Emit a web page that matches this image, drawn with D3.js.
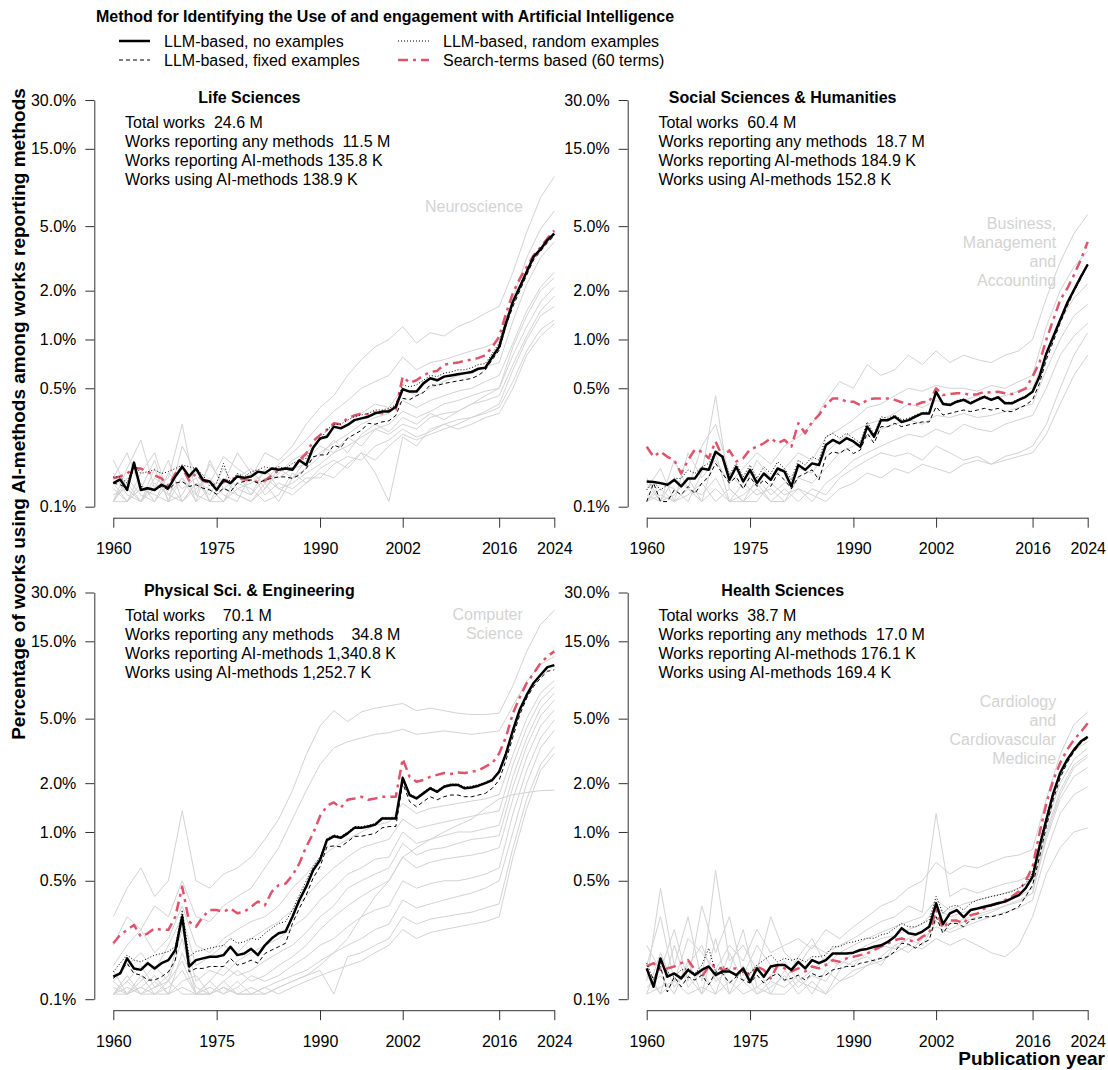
<!DOCTYPE html>
<html>
<head>
<meta charset="utf-8">
<script src="https://cdn.jsdelivr.net/npm/d3@7"></script>
<style>
  body { margin: 0; background: #fff; }
  svg text { font-family: "Liberation Sans", Arial, sans-serif; }
</style>
</head>
<body>
<div id="chart"></div>
<script>
// years shown on the x axis
const years = d3.range(1960, 2025);
const greyYears = d3.range(1960, 2025, 2);
const xTicks = [1960, 1975, 1990, 2002, 2016, 2024];
// lowest tick sits a little under 0.1 and is labelled 0.1%
const yTicks = [0.093, 0.5, 1, 2, 5, 15, 30];

// Life Sciences (percent)
const lifeNoEx = [0.130,0.137,0.118,0.174,0.118,0.121,0.118,0.127,0.121,0.143,
  0.164,0.143,0.160,0.136,0.133,0.118,0.136,0.130,0.143,0.140,
  0.143,0.153,0.150,0.160,0.157,0.160,0.157,0.180,0.168,0.215,
  0.245,0.251,0.290,0.283,0.297,0.318,0.326,0.334,0.350,0.359,
  0.359,0.385,0.493,0.477,0.477,0.536,0.576,0.560,0.590,0.600,
  0.610,0.620,0.630,0.660,0.670,0.780,0.900,1.26,1.71,2.11,
  2.62,3.24,3.60,4.10,4.50];
const lifeFixed = [0.130,0.127,0.121,0.164,0.124,0.121,0.118,0.124,0.118,0.130,
  0.133,0.124,0.127,0.121,0.118,0.111,0.121,0.115,0.130,0.133,
  0.136,0.130,0.136,0.139,0.142,0.142,0.139,0.146,0.160,0.189,
  0.194,0.194,0.223,0.215,0.246,0.260,0.275,0.304,0.300,0.310,
  0.315,0.340,0.433,0.425,0.450,0.470,0.525,0.520,0.535,0.545,
  0.555,0.565,0.575,0.600,0.650,0.750,0.860,1.22,1.60,2.00,
  2.50,3.10,3.50,3.95,4.35];
const lifeRandom = [0.142,0.142,0.130,0.172,0.149,0.153,0.157,0.149,0.153,0.160,
  0.168,0.164,0.160,0.146,0.124,0.130,0.172,0.130,0.149,0.142,
  0.153,0.157,0.164,0.160,0.164,0.160,0.172,0.180,0.185,0.218,
  0.240,0.277,0.300,0.300,0.318,0.334,0.342,0.350,0.367,0.367,
  0.376,0.394,0.525,0.510,0.525,0.560,0.600,0.590,0.620,0.630,
  0.650,0.650,0.670,0.700,0.710,0.820,0.950,1.32,1.74,2.16,
  2.68,3.24,3.60,4.10,4.60];
const lifeSearch = [0.139,0.143,0.149,0.160,0.160,0.152,0.145,0.139,0.125,0.149,
  0.162,0.135,0.149,0.135,0.129,0.125,0.132,0.139,0.139,0.137,
  0.135,0.132,0.135,0.145,0.156,0.160,0.160,0.180,0.198,0.236,
  0.257,0.277,0.304,0.300,0.326,0.340,0.350,0.345,0.355,0.350,
  0.365,0.370,0.590,0.540,0.560,0.600,0.630,0.640,0.700,0.710,
  0.720,0.740,0.750,0.770,0.800,0.900,1.04,1.45,1.94,2.37,
  2.80,3.30,3.70,4.20,4.70];
const lifeGrey = [
  [0.14,0.20,0.12,0.18,0.10,0.22,0.15,0.13,0.19,0.16,0.14,0.20,0.18,0.22,0.30,0.38,0.45,0.60,0.75,0.90,1.00,1.20,0.95,1.10,1.05,1.20,1.30,1.45,1.60,2.60,4.60,7.50,10.1],
  [0.10,0.16,0.24,0.12,0.14,0.30,0.11,0.17,0.13,0.20,0.15,0.13,0.17,0.20,0.24,0.30,0.36,0.42,0.50,0.55,0.60,0.78,0.65,0.72,0.75,0.80,0.85,0.90,0.98,1.80,3.20,4.80,6.20],
  [0.12,0.10,0.15,0.20,0.11,0.14,0.10,0.18,0.12,0.14,0.16,0.12,0.15,0.18,0.20,0.24,0.28,0.30,0.35,0.40,0.38,0.50,0.45,0.50,0.55,0.60,0.62,0.68,0.72,1.30,2.20,3.20,4.00],
  [0.10,0.13,0.10,0.12,0.18,0.10,0.13,0.11,0.16,0.12,0.13,0.15,0.14,0.16,0.17,0.20,0.23,0.26,0.30,0.33,0.35,0.42,0.38,0.42,0.45,0.48,0.50,0.55,0.60,0.95,1.50,2.10,2.60],
  [0.15,0.11,0.10,0.14,0.12,0.17,0.10,0.12,0.10,0.15,0.11,0.14,0.12,0.13,0.15,0.17,0.20,0.22,0.25,0.28,0.30,0.36,0.33,0.36,0.40,0.42,0.45,0.48,0.50,0.80,1.20,1.70,2.10],
  [0.10,0.10,0.13,0.10,0.15,0.12,0.14,0.10,0.12,0.11,0.10,0.12,0.16,0.14,0.18,0.22,0.20,0.25,0.22,0.28,0.26,0.30,0.28,0.33,0.35,0.36,0.40,0.42,0.45,0.70,1.05,1.50,1.85],
  [0.11,0.12,0.10,0.16,0.10,0.11,0.16,0.10,0.10,0.13,0.12,0.10,0.11,0.15,0.13,0.16,0.18,0.16,0.20,0.15,0.10,0.25,0.22,0.28,0.30,0.32,0.33,0.35,0.38,0.55,0.85,1.15,1.32],
  [0.10,0.14,0.11,0.10,0.13,0.10,0.12,0.14,0.11,0.10,0.15,0.11,0.13,0.12,0.14,0.14,0.17,0.19,0.18,0.22,0.24,0.28,0.25,0.27,0.30,0.28,0.30,0.33,0.35,0.50,0.80,1.05,1.25],
  [0.13,0.10,0.12,0.11,0.10,0.14,0.11,0.10,0.14,0.11,0.10,0.13,0.10,0.14,0.16,0.19,0.24,0.20,0.26,0.30,0.27,0.33,0.30,0.35,0.32,0.36,0.40,0.45,0.50,0.90,1.40,2.00,2.40],
  [0.18,0.12,0.10,0.13,0.11,0.10,0.13,0.12,0.10,0.12,0.11,0.16,0.12,0.11,0.13,0.15,0.14,0.17,0.20,0.18,0.22,0.26,0.24,0.26,0.28,0.30,0.33,0.36,0.40,0.65,1.00,1.40,1.60]
];

// Social Sciences & Humanities
const socNoEx = [0.133,0.132,0.130,0.127,0.136,0.124,0.139,0.139,0.160,0.157,
  0.203,0.189,0.136,0.164,0.133,0.157,0.130,0.149,0.136,0.160,
  0.153,0.124,0.168,0.157,0.172,0.168,0.223,0.240,0.229,0.246,
  0.235,0.218,0.290,0.251,0.318,0.318,0.334,0.310,0.318,0.334,
  0.350,0.350,0.475,0.400,0.394,0.413,0.424,0.404,0.424,0.443,
  0.424,0.440,0.404,0.404,0.424,0.443,0.476,0.590,0.820,1.04,
  1.32,1.67,2.02,2.43,2.90];
const socFixed = [0.100,0.130,0.100,0.100,0.118,0.110,0.124,0.112,0.130,0.142,
  0.172,0.149,0.130,0.142,0.120,0.142,0.124,0.136,0.124,0.149,
  0.136,0.120,0.142,0.149,0.157,0.136,0.189,0.203,0.198,0.213,
  0.198,0.208,0.264,0.229,0.290,0.290,0.304,0.290,0.297,0.304,
  0.310,0.310,0.385,0.342,0.350,0.359,0.367,0.359,0.367,0.376,
  0.367,0.376,0.359,0.359,0.376,0.394,0.424,0.536,0.750,0.970,
  1.26,1.59,1.98,2.37,2.89];
const socRandom = [0.118,0.133,0.118,0.127,0.139,0.139,0.157,0.149,0.164,0.172,
  0.203,0.189,0.146,0.172,0.142,0.168,0.139,0.164,0.149,0.176,
  0.160,0.136,0.180,0.168,0.189,0.180,0.251,0.264,0.246,0.264,
  0.246,0.230,0.310,0.260,0.334,0.326,0.342,0.320,0.326,0.342,
  0.355,0.357,0.480,0.405,0.400,0.420,0.430,0.410,0.430,0.450,
  0.430,0.445,0.410,0.410,0.430,0.450,0.480,0.600,0.830,1.05,
  1.33,1.68,2.03,2.45,2.92];
const socSearch = [0.218,0.189,0.203,0.189,0.180,0.149,0.180,0.210,0.203,0.185,
  0.235,0.189,0.207,0.177,0.185,0.210,0.218,0.229,0.246,0.229,
  0.240,0.218,0.304,0.264,0.310,0.342,0.394,0.433,0.433,0.413,
  0.413,0.394,0.424,0.433,0.433,0.433,0.424,0.410,0.400,0.394,
  0.410,0.413,0.500,0.454,0.460,0.466,0.466,0.454,0.460,0.476,
  0.470,0.476,0.466,0.460,0.476,0.500,0.590,0.720,1.00,1.32,
  1.75,2.05,2.50,3.10,4.00];
const socGrey = [
  [0.12,0.16,0.10,0.20,0.14,0.18,0.13,0.16,0.20,0.17,0.22,0.25,0.30,0.42,0.55,0.50,0.70,0.60,0.65,0.80,0.70,0.85,0.72,0.80,0.75,0.72,0.80,0.85,1.00,1.80,3.00,4.50,5.90],
  [0.14,0.10,0.18,0.12,0.22,0.30,0.15,0.12,0.18,0.14,0.16,0.20,0.18,0.25,0.28,0.32,0.38,0.40,0.45,0.50,0.48,0.52,0.50,0.50,0.48,0.52,0.50,0.55,0.60,1.20,2.00,2.80,3.50],
  [0.10,0.13,0.12,0.10,0.15,0.45,0.12,0.10,0.14,0.11,0.13,0.16,0.15,0.20,0.24,0.27,0.30,0.32,0.35,0.40,0.38,0.42,0.40,0.42,0.45,0.43,0.45,0.48,0.50,0.80,1.30,1.80,2.20],
  [0.11,0.10,0.14,0.12,0.10,0.20,0.10,0.13,0.11,0.12,0.10,0.14,0.13,0.16,0.20,0.22,0.25,0.28,0.30,0.32,0.30,0.34,0.33,0.35,0.33,0.34,0.36,0.38,0.40,0.65,1.00,1.40,1.65],
  [0.10,0.12,0.10,0.11,0.13,0.10,0.12,0.10,0.10,0.13,0.11,0.12,0.10,0.13,0.15,0.18,0.20,0.22,0.24,0.26,0.25,0.28,0.26,0.30,0.28,0.27,0.30,0.32,0.34,0.50,0.80,1.05,1.26],
  [0.13,0.10,0.11,0.14,0.10,0.12,0.10,0.11,0.13,0.10,0.12,0.10,0.12,0.11,0.14,0.16,0.18,0.20,0.19,0.20,0.18,0.22,0.20,0.18,0.19,0.17,0.19,0.20,0.22,0.30,0.50,0.80,1.10],
  [0.10,0.11,0.10,0.12,0.11,0.14,0.10,0.10,0.12,0.10,0.10,0.12,0.11,0.10,0.12,0.13,0.15,0.14,0.16,0.15,0.17,0.16,0.15,0.17,0.18,0.17,0.18,0.19,0.20,0.26,0.40,0.60,0.80]
];

// Physical Sci. & Engineering
const physNoEx = [0.128,0.134,0.166,0.144,0.141,0.155,0.144,0.155,0.162,0.187,
  0.300,0.148,0.162,0.166,0.170,0.170,0.174,0.196,0.174,0.178,
  0.190,0.174,0.200,0.221,0.237,0.243,0.300,0.380,0.460,0.580,
  0.670,0.890,0.940,0.920,0.980,1.06,1.06,1.08,1.11,1.21,
  1.21,1.21,2.15,1.69,1.61,1.73,1.86,1.77,1.90,1.95,
  1.95,1.86,1.88,1.93,2.00,2.09,2.35,3.05,4.24,5.70,
  7.00,8.30,9.30,10.4,10.7];
const physFixed = [0.125,0.137,0.155,0.134,0.131,0.122,0.122,0.128,0.137,0.162,
  0.315,0.137,0.144,0.144,0.148,0.148,0.148,0.166,0.151,0.155,
  0.162,0.155,0.178,0.187,0.196,0.206,0.273,0.338,0.408,0.520,
  0.610,0.810,0.820,0.810,0.870,0.940,0.940,0.960,0.980,1.06,
  1.08,1.08,2.00,1.54,1.43,1.54,1.65,1.58,1.65,1.69,
  1.69,1.65,1.65,1.69,1.73,1.86,2.09,2.78,3.87,5.30,
  6.70,7.90,8.90,9.80,10.0];
const physRandom = [0.137,0.155,0.174,0.162,0.158,0.166,0.174,0.178,0.183,0.196,
  0.330,0.170,0.183,0.187,0.192,0.196,0.200,0.221,0.206,0.210,
  0.221,0.216,0.237,0.255,0.273,0.280,0.330,0.408,0.500,0.610,
  0.700,0.910,0.960,0.940,1.00,1.08,1.08,1.10,1.13,1.23,
  1.23,1.23,2.20,1.72,1.64,1.76,1.89,1.80,1.93,1.98,
  1.98,1.90,1.92,1.96,2.03,2.12,2.40,3.10,4.30,5.75,
  7.05,8.30,9.30,10.3,10.6];
const physSearch = [0.206,0.232,0.249,0.267,0.226,0.237,0.255,0.249,0.249,0.300,
  0.460,0.280,0.260,0.300,0.330,0.330,0.322,0.338,0.315,0.322,
  0.346,0.372,0.353,0.428,0.470,0.480,0.540,0.640,0.810,0.980,
  1.25,1.45,1.52,1.41,1.58,1.61,1.65,1.58,1.61,1.65,
  1.65,1.65,2.83,2.19,2.04,2.09,2.19,2.25,2.31,2.28,
  2.33,2.31,2.35,2.40,2.53,2.66,3.05,3.87,5.40,6.80,
  8.30,9.50,11.0,12.1,13.0];
const physGrey = [
  [0.30,0.45,0.60,0.40,0.50,1.35,0.50,0.45,0.55,0.60,0.70,0.90,1.20,1.80,3.00,4.50,5.60,4.80,5.50,5.80,6.00,6.20,5.60,5.80,5.60,5.40,5.30,5.30,5.40,8.00,13.0,19.0,23.3],
  [0.20,0.30,0.25,0.35,0.30,0.50,0.30,0.28,0.35,0.40,0.45,0.60,0.80,1.20,1.80,2.60,3.30,3.60,3.80,4.00,4.10,4.30,4.00,4.10,4.20,4.10,4.00,4.10,4.20,6.00,8.50,10.8,12.1],
  [0.15,0.20,0.25,0.18,0.22,0.35,0.20,0.18,0.22,0.25,0.28,0.30,0.35,0.45,0.55,0.70,0.80,0.90,1.00,1.10,1.15,1.50,1.30,1.40,1.45,1.50,1.55,1.60,1.70,3.00,5.00,7.20,8.60],
  [0.12,0.15,0.18,0.14,0.20,0.30,0.15,0.17,0.20,0.18,0.22,0.25,0.28,0.33,0.40,0.50,0.60,0.70,0.80,0.85,0.90,1.20,1.05,1.10,1.15,1.20,1.25,1.30,1.35,2.60,4.40,6.50,7.90],
  [0.10,0.12,0.15,0.11,0.13,0.25,0.12,0.14,0.13,0.16,0.18,0.20,0.22,0.26,0.30,0.38,0.45,0.55,0.60,0.68,0.70,1.00,0.85,0.90,0.95,1.00,1.00,1.05,1.10,2.20,3.80,5.80,7.20],
  [0.14,0.10,0.12,0.15,0.12,0.22,0.10,0.12,0.15,0.13,0.14,0.16,0.18,0.20,0.24,0.30,0.35,0.45,0.50,0.55,0.60,0.85,0.72,0.78,0.80,0.85,0.90,0.92,0.95,1.90,3.40,5.20,6.50],
  [0.10,0.13,0.10,0.12,0.10,0.18,0.11,0.10,0.12,0.14,0.12,0.13,0.15,0.17,0.20,0.25,0.30,0.35,0.40,0.45,0.50,0.70,0.60,0.65,0.68,0.70,0.72,0.75,0.80,1.60,2.90,4.50,5.65],
  [0.11,0.10,0.13,0.10,0.12,0.16,0.10,0.12,0.10,0.11,0.13,0.12,0.13,0.15,0.17,0.20,0.22,0.26,0.30,0.33,0.35,0.50,0.45,0.48,0.50,0.50,0.52,0.55,0.60,1.30,2.40,3.80,4.90],
  [0.10,0.11,0.10,0.10,0.11,0.14,0.10,0.10,0.11,0.10,0.10,0.11,0.12,0.13,0.14,0.16,0.18,0.20,0.22,0.25,0.27,0.38,0.34,0.36,0.38,0.40,0.42,0.45,0.50,1.00,2.00,3.30,4.24],
  [0.12,0.10,0.11,0.13,0.10,0.12,0.13,0.10,0.12,0.10,0.11,0.10,0.11,0.12,0.13,0.14,0.10,0.17,0.18,0.20,0.22,0.30,0.27,0.29,0.30,0.31,0.32,0.34,0.36,0.80,1.60,2.60,3.36],
  [0.10,0.12,0.10,0.11,0.12,0.10,0.10,0.11,0.10,0.12,0.10,0.11,0.10,0.11,0.12,0.13,0.14,0.15,0.16,0.18,0.20,0.25,0.22,0.24,0.25,0.26,0.27,0.28,0.30,0.70,1.40,2.40,3.05],
  [0.10,0.10,0.11,0.10,0.10,0.11,0.10,0.10,0.11,0.10,0.10,0.10,0.11,0.12,0.13,0.15,0.18,0.22,0.30,0.40,0.50,0.70,0.80,0.90,1.00,1.10,1.20,1.40,1.60,1.70,1.75,1.80,1.81]
];

// Health Sciences
const healthNoEx = [0.144,0.111,0.166,0.128,0.134,0.125,0.141,0.131,0.141,0.148,
  0.131,0.138,0.138,0.131,0.144,0.119,0.144,0.128,0.148,0.151,
  0.151,0.141,0.158,0.144,0.162,0.155,0.162,0.178,0.178,0.178,
  0.180,0.187,0.190,0.196,0.200,0.210,0.226,0.255,0.237,0.233,
  0.243,0.260,0.363,0.270,0.315,0.330,0.298,0.330,0.337,0.346,
  0.353,0.363,0.372,0.390,0.408,0.450,0.530,0.810,1.19,1.73,
  2.31,2.78,3.21,3.61,3.87];
const healthFixed = [0.141,0.125,0.148,0.103,0.128,0.111,0.128,0.122,0.131,0.114,
  0.137,0.134,0.117,0.128,0.122,0.117,0.131,0.117,0.128,0.134,
  0.122,0.125,0.131,0.122,0.134,0.128,0.131,0.141,0.144,0.148,
  0.148,0.155,0.158,0.162,0.166,0.170,0.183,0.206,0.203,0.192,
  0.206,0.216,0.300,0.237,0.273,0.273,0.260,0.287,0.293,0.300,
  0.300,0.307,0.315,0.330,0.346,0.400,0.470,0.700,1.08,1.58,
  2.15,2.66,3.12,3.53,3.80];
const healthRandom = [0.155,0.122,0.158,0.137,0.128,0.141,0.144,0.134,0.151,0.192,
  0.137,0.148,0.141,0.128,0.137,0.134,0.151,0.162,0.174,0.158,
  0.166,0.162,0.166,0.158,0.170,0.170,0.174,0.196,0.196,0.206,
  0.210,0.216,0.221,0.221,0.232,0.237,0.255,0.273,0.260,0.260,
  0.273,0.287,0.400,0.315,0.346,0.353,0.330,0.363,0.380,0.390,
  0.400,0.408,0.418,0.428,0.450,0.480,0.560,0.850,1.24,1.77,
  2.31,2.78,3.21,3.61,3.87];
const healthSearch = [0.148,0.155,0.141,0.144,0.148,0.155,0.162,0.141,0.128,0.148,
  0.151,0.141,0.144,0.144,0.138,0.131,0.148,0.141,0.125,0.151,
  0.144,0.138,0.144,0.138,0.148,0.144,0.151,0.162,0.158,0.166,
  0.170,0.174,0.178,0.187,0.196,0.205,0.215,0.220,0.215,0.210,
  0.226,0.237,0.330,0.255,0.284,0.284,0.273,0.307,0.314,0.337,
  0.353,0.363,0.380,0.400,0.430,0.500,0.610,0.980,1.50,2.09,
  2.66,3.21,3.70,4.14,4.68];
const healthGrey = [
  [0.15,0.30,0.12,0.22,0.18,0.14,0.20,0.16,0.25,0.18,0.20,0.22,0.19,0.25,0.22,0.26,0.30,0.35,0.38,0.45,0.50,0.65,0.55,0.62,0.60,0.65,0.70,0.72,0.78,1.60,3.00,4.60,5.50],
  [0.12,0.45,0.15,0.30,0.12,0.58,0.16,0.20,0.14,0.30,0.18,0.15,0.20,0.18,0.20,0.22,0.25,0.28,0.30,0.35,0.32,1.30,0.40,0.45,0.42,0.45,0.48,0.50,0.55,1.20,2.30,3.20,3.60],
  [0.20,0.14,0.25,0.12,0.35,0.18,0.30,0.13,0.20,0.15,0.12,0.17,0.22,0.15,0.18,0.20,0.22,0.24,0.26,0.28,0.30,0.38,0.33,0.36,0.38,0.40,0.42,0.45,0.50,1.10,2.00,2.80,3.30],
  [0.10,0.18,0.11,0.15,0.20,0.12,0.14,0.25,0.11,0.13,0.16,0.12,0.14,0.17,0.15,0.18,0.20,0.22,0.23,0.25,0.27,0.34,0.30,0.32,0.34,0.36,0.38,0.40,0.45,1.00,1.80,2.60,3.00],
  [0.13,0.10,0.20,0.11,0.14,0.10,0.18,0.12,0.15,0.10,0.14,0.11,0.13,0.12,0.16,0.15,0.18,0.20,0.19,0.22,0.24,0.30,0.27,0.29,0.31,0.33,0.35,0.37,0.42,0.90,1.60,2.20,2.50],
  [0.11,0.13,0.10,0.16,0.10,0.13,0.10,0.15,0.10,0.12,0.11,0.13,0.10,0.14,0.12,0.14,0.15,0.17,0.20,0.18,0.22,0.26,0.24,0.26,0.28,0.30,0.32,0.34,0.38,0.75,1.30,1.70,1.90],
  [0.10,0.11,0.12,0.10,0.11,0.10,0.12,0.10,0.11,0.10,0.10,0.12,0.11,0.10,0.12,0.13,0.15,0.16,0.18,0.20,0.19,0.22,0.20,0.22,0.20,0.18,0.17,0.20,0.30,0.55,0.80,1.00,1.06],
  [0.14,0.10,0.12,0.13,0.10,0.22,0.10,0.12,0.10,0.11,0.13,0.10,0.12,0.10,0.14,0.16,0.17,0.15,0.20,0.22,0.20,0.28,0.25,0.28,0.30,0.32,0.35,0.38,0.42,0.95,1.70,2.50,2.90]
];

const panels = [
  { title: "Life Sciences", col: 0, row: 0,
    stats: ["Total works  24.6 M", "Works reporting any methods  11.5 M", "Works reporting AI-methods 135.8 K", "Works using AI-methods 138.9 K"],
    noEx: lifeNoEx, fixed: lifeFixed, random: lifeRandom, search: lifeSearch, grey: lifeGrey,
    field: ["Neuroscience"], fieldY: 211.7 },
  { title: "Social Sciences & Humanities", col: 1, row: 0,
    stats: ["Total works  60.4 M", "Works reporting any methods  18.7 M", "Works reporting AI-methods 184.9 K", "Works using AI-methods 152.8 K"],
    noEx: socNoEx, fixed: socFixed, random: socRandom, search: socSearch, grey: socGrey,
    field: ["Business,", "Management", "and", "Accounting"], fieldY: 229.3 },
  { title: "Physical Sci. & Engineering", col: 0, row: 1,
    stats: ["Total works    70.1 M", "Works reporting any methods    34.8 M", "Works reporting AI-methods 1,340.8 K", "Works using AI-methods 1,252.7 K"],
    noEx: physNoEx, fixed: physFixed, random: physRandom, search: physSearch, grey: physGrey,
    field: ["Computer", "Science"], fieldY: 127 },
  { title: "Health Sciences", col: 1, row: 1,
    stats: ["Total works  38.7 M", "Works reporting any methods  17.0 M", "Works reporting AI-methods 176.1 K", "Works using AI-methods 169.4 K"],
    noEx: healthNoEx, fixed: healthFixed, random: healthRandom, search: healthSearch, grey: healthGrey,
    field: ["Cardiology", "and", "Cardiovascular", "Medicine"], fieldY: 214.8 }
];

const RED = "#DF536B";
const GREY = "#d3d3d3";
const FONT = 16;

const svg = d3.select("#chart").append("svg")
    .attr("width", 1108)
    .attr("height", 1070);

function drawPanel(p) {
    const x0 = p.col === 0 ? 113.3 : 646.7;
    const y0 = p.row === 0 ? 0 : 492.5;

    const x = d3.scaleLinear().domain([1960, 2024]).range([x0, x0 + 441]);
    const y = d3.scaleLog().domain([0.093, 30]).range([y0 + 506.7, y0 + 100]);

    const g = svg.append("g");

    // subfield lines
    const greyLine = d3.line().x((d, i) => x(greyYears[i])).y(d => y(d));
    g.selectAll(".grey")
        .data(p.grey)
        .enter()
        .append("path")
        .attr("d", greyLine)
        .attr("fill", "none")
        .attr("stroke", GREY)
        .attr("stroke-width", 1);

    // field label
    g.append("text")
        .attr("text-anchor", "end")
        .attr("font-size", FONT)
        .attr("fill", GREY)
        .selectAll("tspan")
        .data(p.field)
        .enter()
        .append("tspan")
        .attr("x", x(2024) - 31.5)
        .attr("y", (d, i) => y0 + p.fieldY + i * 19)
        .text(d => d);

    const line = d3.line().x((d, i) => x(years[i])).y(d => y(d));
    const series = [
        { values: p.search, stroke: RED, width: 2.5, dash: "10,5,3,5" },
        { values: p.fixed, stroke: "#000", width: 1, dash: "4,3" },
        { values: p.random, stroke: "#000", width: 1, dash: "1,2" },
        { values: p.noEx, stroke: "#000", width: 2.5, dash: null }
    ];
    g.selectAll(".series")
        .data(series)
        .enter()
        .append("path")
        .attr("d", d => line(d.values))
        .attr("fill", "none")
        .attr("stroke", d => d.stroke)
        .attr("stroke-width", d => d.width)
        .attr("stroke-dasharray", d => d.dash)
        .attr("stroke-linejoin", "round");

    // axes
    const yAxis = d3.axisLeft(y)
        .tickValues(yTicks)
        .tickFormat(d => d3.format(".1f")(d) + "%")
        .tickSize(9)
        .tickPadding(9)
        .tickSizeOuter(0);
    const ya = g.append("g")
        .attr("transform", `translate(${x0 - 19},0)`)
        .call(yAxis);

    const xAxis = d3.axisBottom(x)
        .tickValues(xTicks)
        .tickFormat(d3.format("d"))
        .tickSize(10)
        .tickPadding(15)
        .tickSizeOuter(0);
    const xa = g.append("g")
        .attr("transform", `translate(0,${y0 + 517.7})`)
        .call(xAxis);

    [ya, xa].forEach(a => {
        a.attr("font-size", FONT).attr("font-family", null);
        a.selectAll("path, line").attr("stroke", "#333");
        a.selectAll("text").attr("fill", "#000");
    });

    // panel title and counts
    g.append("text")
        .attr("x", x0 + 136)
        .attr("y", y0 + 103.3)
        .attr("text-anchor", "middle")
        .attr("font-size", FONT)
        .attr("font-weight", "bold")
        .text(p.title);

    g.selectAll(".stat")
        .data(p.stats)
        .enter()
        .append("text")
        .attr("x", x0 + 11.7)
        .attr("y", (d, i) => y0 + 128.3 + i * 19)
        .attr("font-size", FONT)
        .style("white-space", "pre")
        .text(d => d);
}

panels.forEach(drawPanel);

// legend
const legend = svg.append("g");
legend.append("text")
    .attr("x", 96)
    .attr("y", 21.5)
    .attr("font-size", 16)
    .attr("font-weight", "bold")
    .text("Method for Identifying the Use of and engagement with Artificial Intelligence");

const legendItems = [
    { label: "LLM-based, no examples", x: 119, y: 41, stroke: "#000", width: 2.5, dash: null },
    { label: "LLM-based, fixed examples", x: 119, y: 60, stroke: "#000", width: 1, dash: "4,3" },
    { label: "LLM-based, random examples", x: 398, y: 41, stroke: "#000", width: 1, dash: "1,2" },
    { label: "Search-terms based (60 terms)", x: 398, y: 60, stroke: RED, width: 2.5, dash: "10,5,3,5" }
];
const li = legend.selectAll(".item")
    .data(legendItems)
    .enter()
    .append("g");
li.append("line")
    .attr("x1", d => d.x)
    .attr("x2", d => d.x + 31)
    .attr("y1", d => d.y)
    .attr("y2", d => d.y)
    .attr("stroke", d => d.stroke)
    .attr("stroke-width", d => d.width)
    .attr("stroke-dasharray", d => d.dash);
li.append("text")
    .attr("x", d => d.x + 45)
    .attr("y", d => d.y + 5.5)
    .attr("font-size", FONT)
    .text(d => d.label);

// axis titles
svg.append("text")
    .attr("transform", "translate(25,414) rotate(-90)")
    .attr("text-anchor", "middle")
    .attr("font-size", 19)
    .attr("font-weight", "bold")
    .text("Percentage of works using AI-methods among works reporting methods");

svg.append("text")
    .attr("x", 1105)
    .attr("y", 1065)
    .attr("text-anchor", "end")
    .attr("font-size", 19)
    .attr("font-weight", "bold")
    .text("Publication year");
</script>
</body>
</html>
